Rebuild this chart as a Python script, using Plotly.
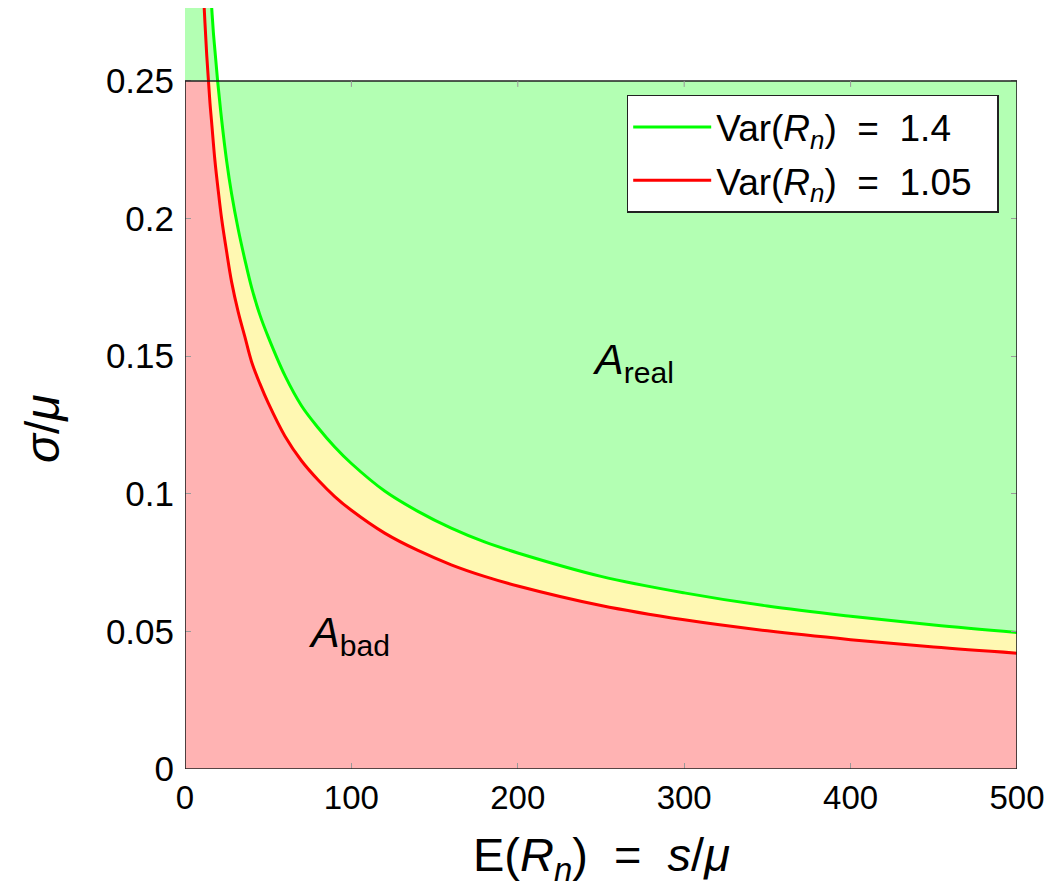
import numpy as np
import plotly.graph_objects as go

# ---- data ----
green_x = [15, 16, 17, 18, 19.6, 22, 25, 28, 32, 36, 40, 45, 50, 60, 70, 80, 90, 100,
           120, 140, 160, 180, 200, 250, 300, 350, 400, 450, 500]
green_y = [0.286, 0.277, 0.268, 0.261, 0.250, 0.236, 0.221, 0.209, 0.196, 0.185, 0.175,
           0.165, 0.157, 0.143, 0.132, 0.124, 0.117, 0.111, 0.101, 0.0936, 0.0875, 0.0825,
           0.0785, 0.070, 0.064, 0.0592, 0.0555, 0.0523, 0.0496]
red_x = [11, 12, 13, 14.1, 15, 16, 18, 20, 22, 25, 28, 32, 36, 40, 45, 50, 60, 70, 80, 90,
         100, 120, 140, 160, 180, 200, 250, 300, 350, 400, 450, 500]
red_y = [0.283, 0.271, 0.260, 0.250, 0.242, 0.235, 0.221, 0.210, 0.200, 0.188, 0.177, 0.166,
         0.157, 0.148, 0.140, 0.133, 0.121, 0.112, 0.105, 0.099, 0.094, 0.0857, 0.0794,
         0.0742, 0.0700, 0.0665, 0.0594, 0.0542, 0.0502, 0.0470, 0.0443, 0.0421]
series_names = ["Var(<i>R<sub>n</sub></i>) &nbsp;= &nbsp;1.4&nbsp;&nbsp;",
                "Var(<i>R<sub>n</sub></i>) &nbsp;= &nbsp;1.05&nbsp;&nbsp;"]
x_ticks = [0, 100, 200, 300, 400, 500]
y_ticks = [0, 0.05, 0.1, 0.15, 0.2, 0.25]
y_tick_labels = ["0", "0.05", "0.1", "0.15", "0.2", "0.25"]

X_MAX = 500
Y_BOX = 0.25
Y_TOP = 0.2765

GREEN = "#00ff00"
RED = "#ff0000"
GREEN_FILL = "#b3ffb3"
RED_FILL = "#ffb3b3"
YELLOW_FILL = "#fff8b2"
FONT = "Liberation Sans"

gx = np.array(green_x, dtype=float)
gy = np.array(green_y, dtype=float)
rx = np.array(red_x, dtype=float)
ry = np.array(red_y, dtype=float)
gy_box = np.minimum(gy, Y_BOX)
ry_box = np.minimum(ry, Y_BOX)

fig = go.Figure()

# green area under the green curve (extends above the box)
fig.add_trace(go.Scatter(x=np.r_[0, gx], y=np.r_[Y_TOP, gy], fill="tozeroy",
                         fillcolor=GREEN_FILL, mode="none", showlegend=False, hoverinfo="skip"))
# yellow band between the curves, inside the box
fig.add_trace(go.Scatter(x=np.r_[gx, rx[::-1]], y=np.r_[gy_box, ry_box[::-1]],
                         fill="toself", fillcolor=YELLOW_FILL, mode="none",
                         showlegend=False, hoverinfo="skip"))
# red area under the red curve, inside the box
fig.add_trace(go.Scatter(x=np.r_[0, rx], y=np.r_[Y_BOX, ry_box],
                         fill="tozeroy", fillcolor=RED_FILL, mode="none",
                         showlegend=False, hoverinfo="skip"))

# curves
fig.add_trace(go.Scatter(x=gx, y=gy, mode="lines", name=series_names[0],
                         line=dict(color=GREEN, width=3, shape="spline"),
                         legendgroup="g1"))
fig.add_trace(go.Scatter(x=rx, y=ry, mode="lines", name=series_names[1],
                         line=dict(color=RED, width=3, shape="spline"),
                         legendgroup="g2"))

shapes = [
    dict(type="rect", xref="x", yref="y", x0=0, x1=X_MAX, y0=0, y1=Y_BOX,
         fillcolor=GREEN_FILL, line=dict(width=0), layer="below"),
    dict(type="rect", xref="x", yref="y", x0=0, x1=X_MAX, y0=0, y1=Y_BOX,
         fillcolor="rgba(0,0,0,0)", line=dict(color="#222222", width=1.6), layer="above"),
]
for t in x_ticks[1:-1]:
    shapes.append(dict(type="line", xref="x", yref="y", ysizemode="pixel", yanchor=Y_BOX,
                       x0=t, x1=t, y0=0, y1=-6, line=dict(color="#999999", width=1),
                       layer="above"))

fig.update_layout(
    width=1050, height=884,
    margin=dict(l=177, r=41, t=0, b=123),
    paper_bgcolor="white", plot_bgcolor="white",
    font=dict(family=FONT, size=33, color="black"),
    shapes=shapes,
    showlegend=True,
    legend=dict(x=0.978, xanchor="right", y=0.8857, yanchor="top",
                bgcolor="white", bordercolor="#222222", borderwidth=1.5,
                font=dict(family=FONT, size=37), tracegroupgap=2, itemwidth=78),
    xaxis=dict(range=[0, X_MAX], tickvals=x_ticks, ticks="inside", ticklen=6,
               tickcolor="#999999", showgrid=False, zeroline=False, showline=False,
               ticklabelstandoff=6, tickfont=dict(size=33)),
    yaxis=dict(range=[0, Y_TOP], tickvals=y_ticks, ticktext=y_tick_labels,
               ticks="inside", ticklen=6, tickcolor="#999999", mirror="ticks",
               showgrid=False, zeroline=False, showline=False,
               ticklabelstandoff=10, tickfont=dict(size=35)),
    annotations=[
        dict(text="E(<i>R</i><sub><i>n</i></sub>)&nbsp;&nbsp;=&nbsp;&nbsp;<i>s</i>/<i>μ</i>",
             xref="paper", yref="paper", x=0.5, y=-0.117, xanchor="center",
             yanchor="middle", showarrow=False, font=dict(size=47)),
        dict(text="<i>σ</i>/<i>μ</i>", xref="paper", yref="paper", x=-0.172, y=0.448,
             xanchor="center", yanchor="middle", showarrow=False, textangle=-90,
             font=dict(size=48)),
        dict(text="<i>A</i><sub>real</sub>", xref="x", yref="y", x=269, y=0.148,
             showarrow=False, font=dict(size=43)),
        dict(text="<i>A</i><sub>bad</sub>", xref="x", yref="y", x=98.5, y=0.0487,
             showarrow=False, font=dict(size=43)),
    ],
)

fig.write_html("out.html")
